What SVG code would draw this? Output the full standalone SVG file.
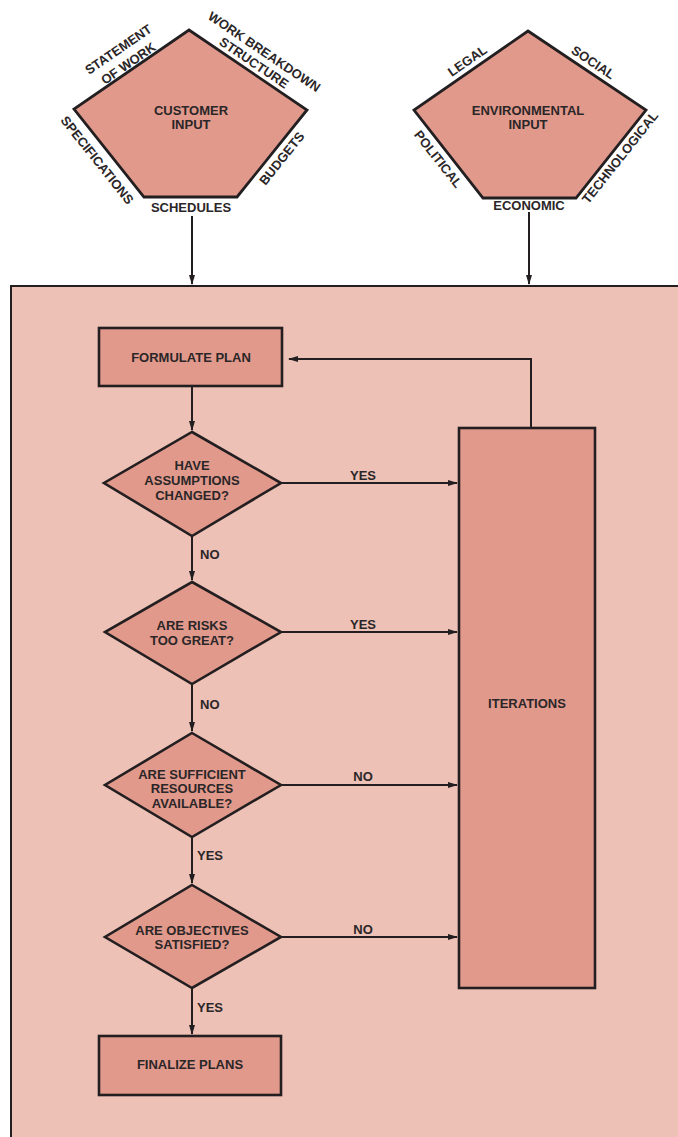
<svg xmlns="http://www.w3.org/2000/svg" width="678" height="1137" viewBox="0 0 678 1137">
<style>
.t{font-family:"Liberation Sans",Arial,sans-serif;font-weight:bold;font-size:13px;fill:#2b2627;text-anchor:middle}
.node{fill:#e1998c;stroke:#231f20;stroke-width:2.6}
.pent{fill:#e1998c;stroke:#231f20;stroke-width:2.8;stroke-linejoin:miter}
.c{fill:none;stroke:#231f20;stroke-width:2}
</style>
<defs>
<marker id="ah" viewBox="0 0 10 6" refX="9" refY="3" markerWidth="10" markerHeight="6" markerUnits="userSpaceOnUse" orient="auto">
<path d="M0,0 L10,3 L0,6 z" fill="#231f20"/>
</marker>
</defs>
<rect x="0" y="0" width="678" height="1137" fill="#ffffff"/>
<g id="frame">
<rect x="11" y="286" width="720" height="900" fill="#edc1b6" stroke="#231f20" stroke-width="2"/>
</g>
<g id="customer-input">
<polygon class="pent" points="189,30 307,110 237,197 144,197 74,109"/>
<text class="t" x="191" y="115">CUSTOMER</text>
<text class="t" x="191" y="129">INPUT</text>
<text class="t" transform="translate(118.3,49.3) rotate(-34.5)" y="4.6">STATEMENT</text>
<text class="t" transform="translate(128.3,63.3) rotate(-34.5)" y="4.6">OF WORK</text>
<text class="t" transform="translate(264.3,51.7) rotate(34.1)" y="4.6">WORK BREAKDOWN</text>
<text class="t" transform="translate(254,62.7) rotate(34.1)" y="4.6">STRUCTURE</text>
<text class="t" transform="translate(97.3,160) rotate(51.5)" y="4.6">SPECIFICATIONS</text>
<text class="t" transform="translate(281.7,158.3) rotate(-51.2)" y="4.6">BUDGETS</text>
<text class="t" x="191" y="212">SCHEDULES</text>
</g>
<g id="environmental-input">
<polygon class="pent" points="528,31 646,110 576,198 483,198 414,110"/>
<text class="t" x="528" y="115">ENVIRONMENTAL</text>
<text class="t" x="528" y="129">INPUT</text>
<text class="t" transform="translate(467.3,60.7) rotate(-34.7)" y="4.6">LEGAL</text>
<text class="t" transform="translate(593.3,62.3) rotate(33.8)" y="4.6">SOCIAL</text>
<text class="t" transform="translate(438.3,159) rotate(51.9)" y="4.6">POLITICAL</text>
<text class="t" transform="translate(620,157.3) rotate(-51.5)" y="4.6">TECHNOLOGICAL</text>
<text class="t" x="529" y="210">ECONOMIC</text>
</g>
<g id="formulate-plan">
<rect class="node" x="99" y="328" width="183" height="58"/>
<text class="t" x="191" y="362">FORMULATE PLAN</text>
</g>
<g id="assumptions">
<polygon class="node" points="192,432 281,483 192,536 104,483"/>
<text class="t" x="192" y="470">HAVE</text>
<text class="t" x="192" y="485">ASSUMPTIONS</text>
<text class="t" x="192" y="500">CHANGED?</text>
</g>
<g id="risks">
<polygon class="node" points="192,582 281,632 192,684 105,632"/>
<text class="t" x="192" y="630">ARE RISKS</text>
<text class="t" x="192" y="645">TOO GREAT?</text>
</g>
<g id="resources">
<polygon class="node" points="192,733 281,785 192,837 105,785"/>
<text class="t" x="192" y="779">ARE SUFFICIENT</text>
<text class="t" x="192" y="793">RESOURCES</text>
<text class="t" x="192" y="808">AVAILABLE?</text>
</g>
<g id="objectives">
<polygon class="node" points="192,885 281,937 192,988 105,937"/>
<text class="t" x="192" y="935">ARE OBJECTIVES</text>
<text class="t" x="192" y="949">SATISFIED?</text>
</g>
<g id="finalize-plans">
<rect class="node" x="99" y="1036" width="182" height="59"/>
<text class="t" x="190" y="1069">FINALIZE PLANS</text>
</g>
<g id="iterations">
<rect class="node" x="459" y="428" width="136" height="560"/>
<text class="t" x="527" y="708">ITERATIONS</text>
</g>
<g id="connectors">
<line class="c" x1="192" y1="216" x2="192" y2="284" marker-end="url(#ah)"/>
<line class="c" x1="529" y1="212" x2="529" y2="284" marker-end="url(#ah)"/>
<polyline class="c" points="531,428 531,359 289,359" marker-end="url(#ah)"/>
<line class="c" x1="192" y1="387" x2="192" y2="430" marker-end="url(#ah)"/>
<line class="c" x1="192" y1="537" x2="192" y2="580" marker-end="url(#ah)"/>
<line class="c" x1="192" y1="685" x2="192" y2="731" marker-end="url(#ah)"/>
<line class="c" x1="192" y1="838" x2="192" y2="883" marker-end="url(#ah)"/>
<line class="c" x1="192" y1="989" x2="192" y2="1034" marker-end="url(#ah)"/>
<line class="c" x1="282" y1="483" x2="457" y2="483" marker-end="url(#ah)"/>
<line class="c" x1="282" y1="632" x2="457" y2="632" marker-end="url(#ah)"/>
<line class="c" x1="282" y1="785" x2="457" y2="785" marker-end="url(#ah)"/>
<line class="c" x1="282" y1="937" x2="457" y2="937" marker-end="url(#ah)"/>
<text class="t" x="363" y="480">YES</text>
<text class="t" x="363" y="629">YES</text>
<text class="t" x="363" y="781">NO</text>
<text class="t" x="363" y="934">NO</text>
<text class="t" x="200" y="559" text-anchor="start" style="text-anchor:start">NO</text>
<text class="t" x="200" y="709" style="text-anchor:start">NO</text>
<text class="t" x="197" y="860" style="text-anchor:start">YES</text>
<text class="t" x="197" y="1012" style="text-anchor:start">YES</text>
</g>
</svg>
